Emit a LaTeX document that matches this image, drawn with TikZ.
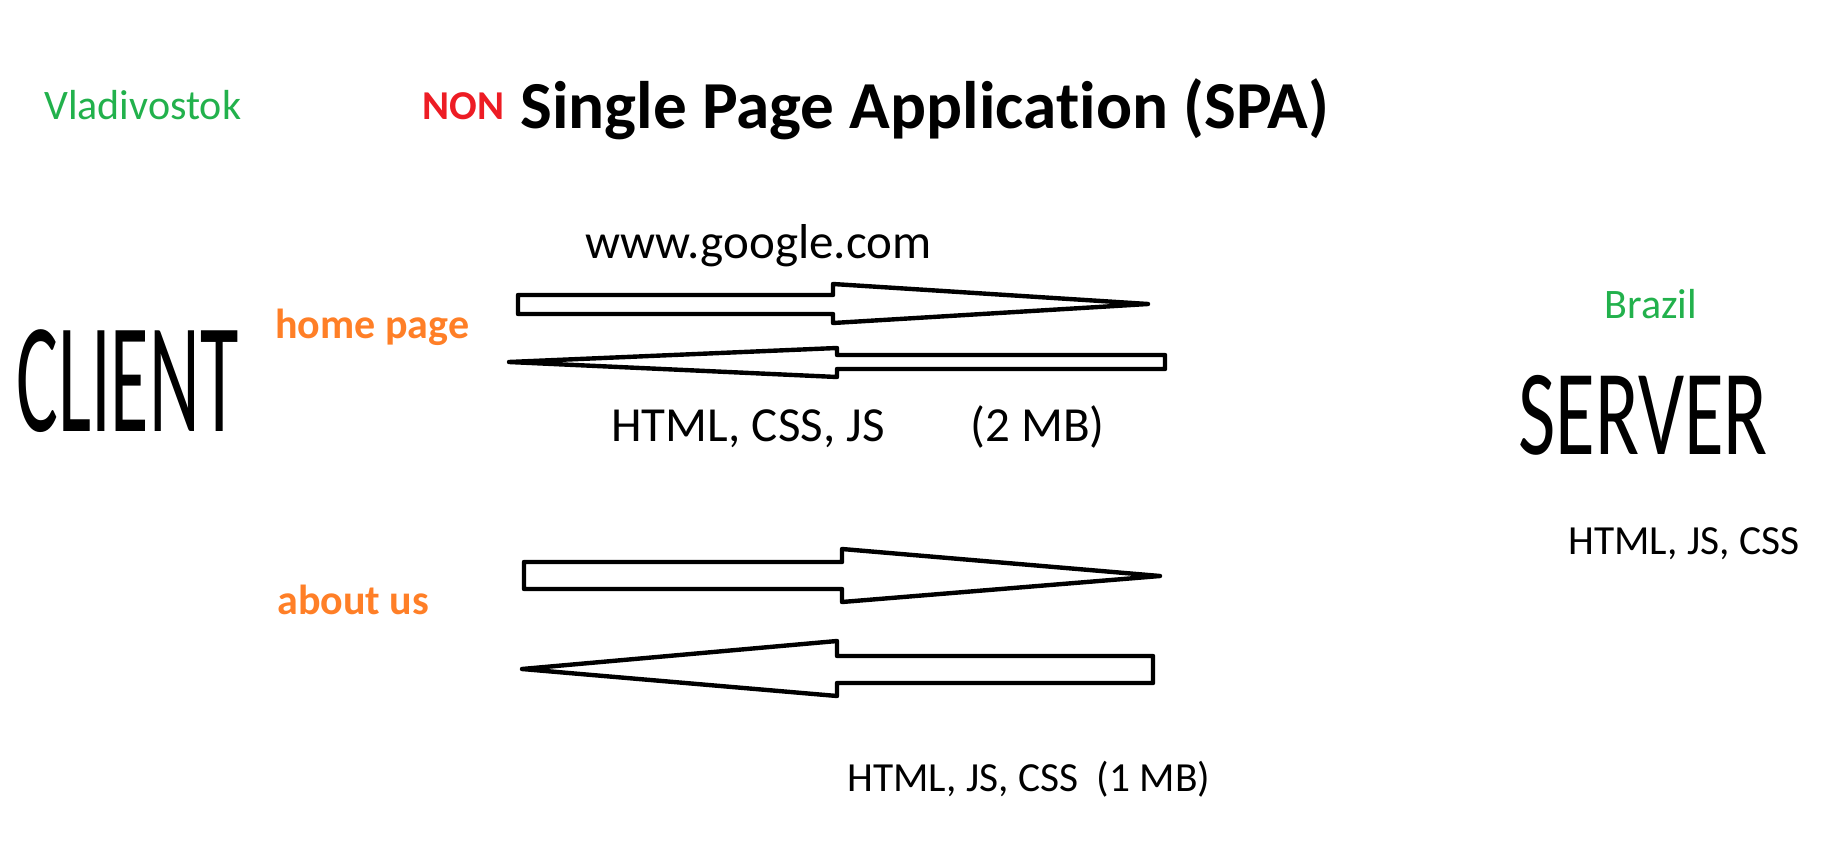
\documentclass[tikz,border=0pt]{standalone}
\usepackage{fontspec}
\setmainfont{Carlito}[Ligatures=NoCommon]
\usepackage{graphicx}
\definecolor{paintgreen}{RGB}{34,177,76}
\definecolor{paintred}{RGB}{237,28,36}
\definecolor{paintorange}{RGB}{255,127,39}
\begin{document}
\begin{tikzpicture}[x=0.5pt, y=-0.5pt,
  txt/.style={anchor=base west, inner sep=0pt, font=\fontsize{24.5}{29}\selectfont},
  small/.style={anchor=base west, inner sep=0pt, font=\fontsize{20.7}{25}\selectfont},
  place/.style={anchor=base west, inner sep=0pt, text=paintgreen,
                font=\fontsize{21}{25}\selectfont},
  page/.style={anchor=base west, inner sep=0pt, text=paintorange,
               font=\bfseries\fontsize{21}{25}\selectfont},
  big/.style={anchor=base west, inner sep=0pt},
  blockarrow/.style={draw, fill=white, line width=2.2pt, line join=round},
]
\useasboundingbox (0,0) rectangle (1825,861);

% heading
\node[place] (vlad)  at (44,120)  {Vladivostok};
\node[anchor=base west, inner sep=0pt, text=paintred,
      font=\bfseries\fontsize{20.5}{25}\selectfont] (non) at (422,120) {NON};
\node[anchor=base west, inner sep=0pt,
      font=\bfseries\fontsize{33.6}{40}\selectfont] (title) at (520,129)
      {Single Page Application (SPA)};

% the two machines
\node[big] (client) at (16,431)
      {\scalebox{0.5}[1]{\fontsize{78.5}{90}\selectfont CLIENT}};
\node[place] (brazil) at (1604,318) {Brazil};
\node[big] (server) at (1518,454)
      {\scalebox{0.665}[1]{\fontsize{61}{70}\selectfont SERVER}};
\node[small] (srvfiles) at (1568,554) {HTML, JS, CSS};

% first request: home page
\node[page] (home) at (275,338) {home page};
\node[txt]  (url)  at (585,258) {www.google.com};
\draw[blockarrow] (518,295) -- (833,295) -- (833,284) -- (1148,304)
                  -- (833,323) -- (833,314) -- (518,314) -- cycle;
\draw[blockarrow] (1165,355) -- (837,355) -- (837,348) -- (509,362)
                  -- (837,377) -- (837,369) -- (1165,369) -- cycle;
\node[txt] (resp1)  at (611,441) {HTML, CSS, JS};
\node[txt] (size1)  at (970,441) {(2 MB)};

% second request: about us
\node[page] (about) at (277,614) {about us};
\draw[blockarrow] (524,562) -- (842,562) -- (842,549) -- (1160,576)
                  -- (842,602) -- (842,589) -- (524,589) -- cycle;
\draw[blockarrow] (1153,656) -- (837,656) -- (837,641) -- (522,669)
                  -- (837,696) -- (837,683) -- (1153,683) -- cycle;
\node[small] (resp2) at (847,791) {HTML, JS, CSS\ \ (1 MB)};
\end{tikzpicture}
\end{document}
